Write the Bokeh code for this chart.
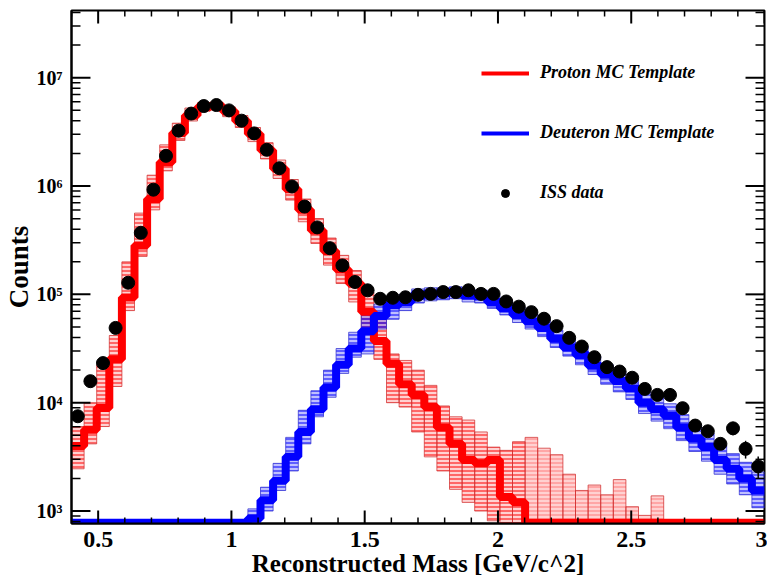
import numpy as np
from bokeh.plotting import figure
from bokeh.models import (ColumnDataSource, Range1d, FixedTicker, CustomJSTickFormatter,
                          Legend, LegendItem, BoxAnnotation)
from bokeh.embed import file_html
from bokeh.resources import INLINE

# ---------------- data ----------------
mass_edges = np.linspace(0.4, 3.0, 56)   # 55 mass bins [GeV/c^2]

iss_counts = [7.5e3, 1.58e4, 2.32e4, 4.9e4, 1.28e5, 3.7e5, 9.25e5, 1.9e6, 3.24e6, 4.66e6,
              5.47e6, 5.59e6, 4.99e6, 4.01e6, 3.06e6, 2.16e6, 1.46e6, 9.9e5, 6.46e5, 4.15e5,
              2.67e5, 1.85e5, 1.30e5, 1.09e5, 9.1e4, 9.3e4, 9.4e4, 9.9e4, 1.01e5, 1.05e5,
              1.05e5, 1.09e5, 1.01e5, 1.01e5, 8.6e4, 7.7e4, 6.85e4, 5.96e4, 5.09e4, 3.97e4,
              3.3e4, 2.63e4, 2.13e4, 1.94e4, 1.70e4, 1.34e4, 1.18e4, 1.18e4, 8.9e3, 6.15e3,
              5.45e3, 4.17e3, 5.8e3, 3.75e3, 2.58e3]
iss_errors = [0, 0, 0, 0, 0, 0, 0, 0, 0, 0,
              0, 0, 0, 0, 0, 0, 0, 0, 0, 0,
              0, 0, 0, 0, 0, 0, 0, 0, 0, 0,
              0, 0, 0, 0, 0, 0, 0, 0, 0, 0,
              0, 0, 0, 0, 0, 0, 0, 0, 0, 400,
              450, 500, 800, 700, 600]

# log10(counts); None = empty bin
proton_log = [3.60, 3.75, 3.95, 4.40, 4.97, 5.45, 5.88, 6.22, 6.49, 6.65,
              6.73, 6.74, 6.69, 6.60, 6.48, 6.33, 6.16, 5.97, 5.78, 5.59,
              5.40, 5.23, 5.10, 4.84, 4.57, 4.36, 4.17, 4.07, 3.96, 3.77,
              3.62, 3.47, 3.44, 3.47, 3.13, 3.08, None, None, None, None,
              None, None, None, None, None, None, None, None, None, None,
              None, None, None, None, None]
proton_log_low = [3.39, 3.62, 3.78, 4.15, 4.85, 5.35, 5.78, 6.14, 6.42, 6.60,
                  6.69, 6.70, 6.64, 6.54, 6.41, 6.25, 6.07, 5.87, 5.67, 5.47,
                  5.27, 5.10, 4.93, 4.68, 4.40, 4.00, 3.96, 3.73, 3.50, 3.37,
                  3.20, 3.08, 3.00, 2.91, None, None, None, None, None, None,
                  None, None, None, None, None, None, None, None, None, None,
                  None, None, None, None, None]
proton_log_high = [3.78, 4.00, 4.35, 4.62, 5.30, 5.75, 6.10, 6.38, 6.58, 6.72,
                   6.77, 6.77, 6.73, 6.65, 6.54, 6.40, 6.24, 6.06, 5.88, 5.70,
                   5.52, 5.36, 5.22, 5.02, 4.78, 4.45, 4.39, 4.30, 4.16, 3.97,
                   3.87, 3.84, 3.73, 3.59, 3.56, 3.64, 3.68, 3.58, 3.52, 3.34,
                   3.19, 3.24, 3.15, 3.29, 3.04, 2.96, 3.14, None, None, None,
                   None, None, None, None, None]

deuteron_log = [None, None, None, None, None, None, None, None, None, None,
                None, None, None, None, 2.93, 3.10, 3.28, 3.50, 3.73, 3.94,
                4.14, 4.35, 4.50, 4.66, 4.80, 4.90, 4.93, 4.99, 5.005, 5.01,
                5.02, 4.99, 4.98, 4.93, 4.87, 4.81, 4.75, 4.69, 4.59, 4.51,
                4.44, 4.34, 4.26, 4.20, 4.13, 4.00, 3.94, 3.88, 3.77, 3.67,
                3.59, 3.47, 3.39, 3.30, 3.19]
deuteron_log_low = [None, None, None, None, None, None, None, None, None, None,
                    None, None, None, None, 2.85, 3.00, 3.19, 3.37, 3.62, 3.87,
                    4.05, 4.27, 4.42, 4.45, 4.68, 4.77, 4.85, 4.92, 4.94, 4.95,
                    4.96, 4.93, 4.92, 4.87, 4.81, 4.74, 4.68, 4.61, 4.51, 4.43,
                    4.35, 4.26, 4.17, 4.10, 4.03, 3.90, 3.83, 3.76, 3.65, 3.55,
                    3.46, 3.34, 3.25, 3.15, 3.03]
deuteron_log_high = [None, None, None, None, None, None, None, None, None, None,
                     None, None, None, None, 3.02, 3.22, 3.44, 3.68, 3.93, 4.11,
                     4.30, 4.50, 4.65, 4.84, 4.91, 4.97, 5.00, 5.05, 5.06, 5.06,
                     5.07, 5.05, 5.04, 4.99, 4.94, 4.88, 4.82, 4.76, 4.67, 4.59,
                     4.52, 4.43, 4.35, 4.29, 4.22, 4.10, 4.05, 3.99, 3.89, 3.79,
                     3.72, 3.61, 3.53, 3.45, 3.36]

x_ticks = [0.5, 1.0, 1.5, 2.0, 2.5, 3.0]
x_tick_labels = ["0.5", "1", "1.5", "2", "2.5", "3"]
y_ticks = [1e3, 1e4, 1e5, 1e6, 1e7]
y_tick_labels = ["10\u00b3", "10\u2074", "10\u2075", "10\u2076", "10\u2077"]

# ---------------- layout constants ----------------
X_START, X_END = 0.4, 3.0
Y_START, Y_END = 10 ** 2.885, 10 ** 7.62
FLOOR = 10 ** 2.893
FONT = "Liberation Serif"
W, H = 767, 585
BL, BR, BT, BB = 70, 3, 10, 62
FRAME_W, FRAME_H = W - BL - BR, H - BT - BB
X_PER_PX = (X_END - X_START) / FRAME_W
DEC_PER_PX = (np.log10(Y_END) - np.log10(Y_START)) / FRAME_H

edges = np.asarray(mass_edges, dtype=float)
centers = 0.5 * (edges[:-1] + edges[1:])

def to_counts(logs):
    return np.array([FLOOR if v is None else 10 ** v for v in logs], dtype=float)

def step_y(logs):
    c = to_counts(logs)
    return np.append(c, c[-1])

def band_source(low, high, nominal):
    l, r, b, t, ha = [], [], [], [], []
    for i, (lo, hi) in enumerate(zip(low, high)):
        if hi is None:
            continue
        l.append(float(edges[i])); r.append(float(edges[i + 1]))
        b.append(FLOOR if lo is None else 10 ** lo)
        t.append(10 ** hi)
        ha.append(0.85 if nominal[i] is not None else 0.35)
    return ColumnDataSource(dict(left=l, right=r, bottom=b, top=t, ha=ha))

# ---------------- figure ----------------
p = figure(width=W, height=H, output_backend="svg", toolbar_location=None,
           y_axis_type="log", x_range=Range1d(X_START, X_END), y_range=Range1d(Y_START, Y_END),
           min_border_left=BL, min_border_right=BR, min_border_top=BT, min_border_bottom=BB)
p.xgrid.visible = False
p.ygrid.visible = False
p.outline_line_color = "black"
p.outline_line_width = 2
p.background_fill_color = "white"
p.border_fill_color = "white"

RED, BLUE = "#ff0000", "#0000ff"

# template variation bands
p.quad(source=band_source(proton_log_low, proton_log_high, proton_log), left="left", right="right",
       bottom="bottom", top="top", fill_color=RED, fill_alpha=0.18,
       hatch_pattern="horizontal_line", hatch_color=RED, hatch_alpha="ha",
       hatch_scale=4, hatch_weight=1.2, line_color="#d03030", line_alpha=0.75, line_width=1)
p.quad(source=band_source(deuteron_log_low, deuteron_log_high, deuteron_log), left="left", right="right",
       bottom="bottom", top="top", fill_color=BLUE, fill_alpha=0.25,
       hatch_pattern="horizontal_line", hatch_color=BLUE, hatch_alpha="ha",
       hatch_scale=4, hatch_weight=1.2, line_color="#3030d0", line_alpha=0.75, line_width=1)

# nominal templates
p.step(x=edges, y=step_y(proton_log), mode="after", line_color=RED, line_width=8)
p.step(x=edges, y=step_y(deuteron_log), mode="after", line_color=BLUE, line_width=8)

# ISS data
iss = np.array(iss_counts, dtype=float)
err = np.array(iss_errors, dtype=float)
has_err = err > 0
p.segment(x0=centers[has_err], x1=centers[has_err], y0=(iss - err)[has_err], y1=(iss + err)[has_err],
          line_color="black", line_width=1.5)
p.scatter(x=centers, y=iss, size=13, color="black")

# ---------------- inward ticks on all four sides: small black box annotations ----------------
x_minor = [float(v) for v in np.round(np.arange(X_START, X_END + 1e-9, 0.1), 2)
           if min(abs(v - t) for t in x_ticks) > 1e-6]
y_minor = [m * 10.0 ** d for d in range(2, 8) for m in range(2, 10) if Y_START < m * 10.0 ** d < Y_END]

def tick_box(left, right, bottom, top):
    p.add_layout(BoxAnnotation(left=left, right=right, bottom=bottom, top=top,
                               fill_color="black", fill_alpha=1.0, line_color=None, level="overlay"))

for xs, length, width in ((x_ticks, 13, 2.0), (x_minor, 6, 1.5)):
    up = 10 ** (length * DEC_PER_PX)
    hw = 0.5 * width * X_PER_PX
    for x in xs:
        tick_box(x - hw, x + hw, Y_START, Y_START * up)
        tick_box(x - hw, x + hw, Y_END / up, Y_END)
for ys, length, width in ((y_ticks, 19, 2.0), (y_minor, 9, 1.5)):
    dx = length * X_PER_PX
    hh = 10 ** (0.5 * width * DEC_PER_PX)
    for y in ys:
        tick_box(X_START, X_START + dx, y / hh, y * hh)
        tick_box(X_END - dx, X_END, y / hh, y * hh)

# ---------------- axes: labels only ----------------
fmt_x = CustomJSTickFormatter(args=dict(t=x_ticks, l=x_tick_labels),
                              code="const i = t.findIndex(v => Math.abs(v - tick) < 1e-6); return i >= 0 ? l[i] : '';")
fmt_y = CustomJSTickFormatter(args=dict(t=y_ticks, l=y_tick_labels),
                              code="const i = t.findIndex(v => Math.abs(Math.log10(v) - Math.log10(tick)) < 1e-6); return i >= 0 ? l[i] : '';")

for ax, fmt, ticks, size in ((p.xaxis[0], fmt_x, x_ticks, "24px"), (p.yaxis[0], fmt_y, y_ticks, "20px")):
    ax.ticker = FixedTicker(ticks=ticks)
    ax.formatter = fmt
    ax.major_tick_in = 0
    ax.major_tick_out = 0
    ax.minor_tick_in = 0
    ax.minor_tick_out = 0
    ax.axis_line_width = 2
    ax.axis_line_color = "black"
    ax.major_label_text_font = FONT
    ax.major_label_text_font_style = "bold"
    ax.major_label_text_color = "black"
    ax.major_label_text_font_size = size
    ax.axis_label_text_font = FONT
    ax.axis_label_text_font_style = "bold"
    ax.axis_label_text_color = "black"
p.xaxis[0].major_label_standoff = 8
p.yaxis[0].major_label_standoff = 9
p.xaxis[0].axis_label = "Reconstructed Mass [GeV/c^2]"
p.xaxis[0].axis_label_text_font_size = "25px"
p.xaxis[0].axis_label_standoff = 0
p.yaxis[0].axis_label = "Counts"
p.yaxis[0].axis_label_text_font_size = "27px"
p.yaxis[0].axis_label_standoff = 0

# ---------------- legend (NaN-data renderers carry the legend glyph styles) ----------------
leg_red = p.line(x=[np.nan], y=[np.nan], line_color=RED, line_width=4)
leg_blue = p.line(x=[np.nan], y=[np.nan], line_color=BLUE, line_width=4)
leg_dot = p.scatter(x=[np.nan], y=[np.nan], size=10, color="black")
legend = Legend(items=[LegendItem(label="Proton MC Template", renderers=[leg_red]),
                       LegendItem(label="Deuteron MC Template", renderers=[leg_blue]),
                       LegendItem(label="ISS data", renderers=[leg_dot])],
                location=(410, 320), orientation="vertical",
                glyph_width=48, glyph_height=20, label_height=20, label_standoff=11,
                spacing=39, padding=0, margin=0,
                border_line_color=None, background_fill_alpha=0,
                label_text_font=FONT, label_text_font_style="bold italic",
                label_text_font_size="18px", label_text_color="black")
p.add_layout(legend, "center")

open("out.html", "w").write(file_html(p, INLINE))
